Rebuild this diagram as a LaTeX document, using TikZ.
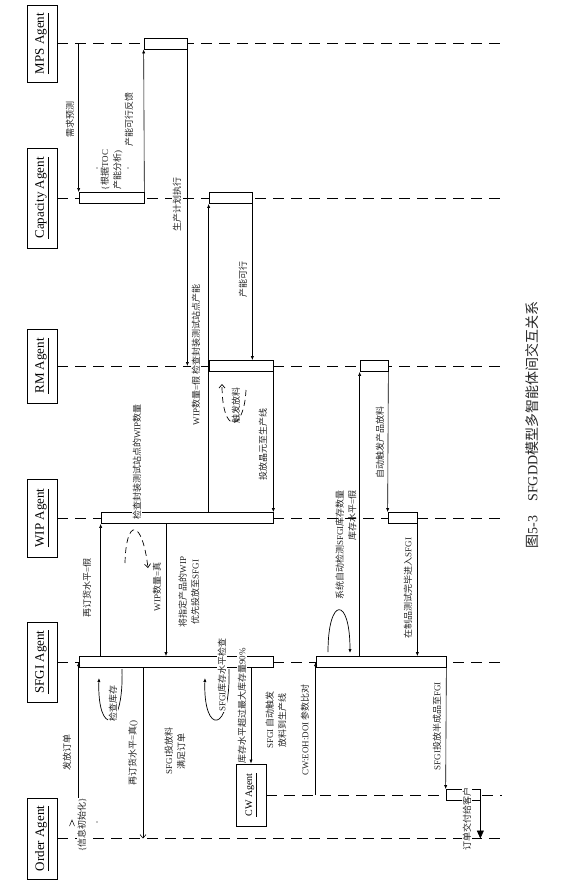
\documentclass[tikz,border=0pt]{standalone}
\usepackage{fontspec}
\setmainfont{Liberation Serif}
\newfontfamily\cjk{Noto Sans CJK SC}
\newcommand\zhs[1]{{\cjk #1}}
\usetikzlibrary{arrows.meta,fit}
\begin{document}
\begin{tikzpicture}[x=1pt,y=-1pt,
 agent/.style={draw, line width=0.9pt, rotate=90, minimum height=30, inner sep=1pt, font=\fontsize{13}{15}\selectfont},
 life/.style={line width=0.8pt, dash pattern=on 11pt off 7pt},
 act/.style={draw, fill=white, line width=0.7pt, inner sep=0pt},
 msg/.style={line width=0.6pt, -{Latex[length=4pt,width=3.2pt]}},
 msgo/.style={line width=0.6pt, -{Straight Barb[length=3.5pt,width=6pt]}},
 big/.style={line width=0.7pt, -{Triangle[length=8pt,width=7pt]}},
 loopd/.style={line width=0.7pt, dash pattern=on 6pt off 4pt, -{Straight Barb[length=3.5pt,width=6pt]}},
 loops/.style={line width=0.7pt, -{Latex[length=4pt,width=3.2pt]}},
 lbl/.style={rotate=90, inner sep=0.6pt, align=center, font=\fontsize{9}{12.5}\selectfont, text=black!85},
 lblw/.style={lbl, fill=white},
]
\useasboundingbox (0,0) rectangle (584,890);
\coordinate (endx) at (502,0);
\coordinate (m166) at (166,0);
\coordinate (m143) at (143,0);

% agents
\node[agent, minimum width=77] (mps) at (42,43.5) {\underline{MPS Agent}};
\node[agent, minimum width=100] (cap) at (42,198) {\underline{Capacity Agent}};
\node[agent, minimum width=74] (rm) at (42,366) {\underline{RM Agent}};
\node[agent, minimum width=78] (wip) at (42,518) {\underline{WIP Agent}};
\node[agent, minimum width=80] (sfgi) at (42,662) {\underline{SFGI Agent}};
\node[agent, minimum width=81] (order) at (42,838.5) {\underline{Order Agent}};
\node[agent, minimum width=62, font=\fontsize{10}{12}\selectfont] (cw) at (251,795) {\underline{CW Agent}};

% lifelines
\foreach \a in {mps,cap,rm,wip,sfgi,order,cw}
  \draw[life] (\a.south) -- (\a.south -| endx);

% activation boxes
\node[act, fit={(144,38) (187,49)}] (am) {};
\node[act, fit={(79,192.5) (144,203.5)}] (acap1) {};
\node[act, fit={(209,192.5) (252,203.5)}] (acap2) {};
\node[act, fit={(209,360.5) (273,371.5)}] (arm1) {};
\node[act, fit={(360,360.5) (388,371.5)}] (arm2) {};
\node[act, fit={(101,512.5) (273,523.5)}] (awip1) {};
\node[act, fit={(388,512.5) (417,523.5)}] (awip2) {};
\node[act, fit={(79,656.5) (273,667.5)}] (asfgi1) {};
\node[act, fit={(316,656.5) (446,667.5)}] (asfgi2) {};
\node[act, fit={(446,789.5) (480,800.5)}] (acw) {};

% messages
\draw[msg] (acap1.north west |- mps) -- (acap1.north west);
\draw[msg] (acap1.north east) -- (am.south west);
\draw[msg] (am.south east) -- (am.south east |- rm);
\draw[msg] (acap2.south west |- awip1.north) -- (acap2.south west);
\draw[msg] (acap2.south east) -- (acap2.south east |- arm1.north);
\draw[msg] (arm1.south east) -- (awip1.north east);
\draw[msg] (awip1.south west |- asfgi1.north) -- (awip1.south west);
\draw[msg] (awip1.south -| m166) -- (asfgi1.north -| m166);
\draw[msg] (asfgi1.west |- order) -- (asfgi1.west);
\draw[msgo] (asfgi1.south -| m143) -- (m143 |- order);
\draw[msg] (asfgi1.south -| cw.east) -- (cw.east);
\draw[msg] (asfgi2.west |- cw) -- (asfgi2.west);
\draw[msg] (arm2.south west |- asfgi2.north) -- (arm2.south west);
\draw[msg] (arm2.south east) -- (awip2.north west);
\draw[msg] (awip2.south east) -- (awip2.south east |- asfgi2.north);
\draw[msg] (asfgi2.south east) -- (acw.north west);
\draw[big] (acw.south east) -- (acw.south east |- order);

% self loops
\draw[loopd] (125,563) .. controls (126,518) and (142,518) .. (148,568);
\draw[loopd] (246,390) .. controls (244,432) and (222,436) .. (222,384);
\draw[loops] (122,669) .. controls (124,735) and (97,735) .. (99,678);
\draw[loops] (229,669) .. controls (231,735) and (203,735) .. (205,678);
\draw[loops] (328,652) .. controls (328,596) and (350,596) .. (350,653);

% small marks
\fill (97,168) circle (0.6);
\fill (128,168) circle (0.6);
\fill (97,822) circle (0.6);
\draw[line width=0.5pt] (69.5,826) -- (72,820) -- (74.5,826);

% labels
\node[lbl] (l1) at (70,120) {\zhs{需求预测}};
\node[lbl] (l2) at (129,120) {\zhs{产能可行反馈}};
\node[lbl] (l3) at (111.5,170) {\{\zhs{根据}TOC\\\zhs{产能分析})};
\node[lblw] (l4) at (177,205) {\zhs{生产计划执行}};
\node[lblw] (l5) at (196,355) {WIP\zhs{数量}=\zhs{假} \zhs{检查封装测试站点产能}};
\node[lbl] (l6) at (243,279) {\zhs{产能可行}};
\node[lbl] (l7) at (236,405) {\zhs{触发放料}};
\node[lbl] (l8) at (263,444) {\zhs{投放晶元至生产线}};
\node[lbl] (l9) at (380,442) {\zhs{自动触发产品放料}};
\node[lblw] (l10) at (137,462) {\zhs{检查封装测试站点的}WIP\zhs{数量}};
\node[lbl] (l11) at (87,588) {\zhs{再订货水平}=\zhs{假}};
\node[lbl] (l12) at (157,587) {WIP\zhs{数量}=\zhs{真}};
\node[lbl] (l13) at (189,592) {\zhs{将指定产品的}WIP\\\zhs{优先投放至}SFGI};
\node[lbl, align=right] (l14) at (346,545) {\zhs{系统自动检测}SFGI\zhs{库存数量}\\\zhs{库存水平}=\zhs{假}};
\node[lbl] (l15) at (408,588) {\zhs{在制品测试完毕进入}SFGI};
\node[lbl] (l16) at (67,752) {\zhs{发放订单}};
\node[lblw] (l17) at (113,703) {\zhs{检查库存}};
\node[lbl] (l18) at (133,753) {\zhs{再订货水平}=\zhs{真}()};
\node[lbl] (l19) at (175,751) {SFGI\zhs{投放料}\\\zhs{满足订单}};
\node[lblw] (l20) at (222,675) {SFGI\zhs{库存水平检查}};
\node[lblw] (l21) at (242,706) {\zhs{库存水平超过最大库存量}90\%};
\node[lbl] (l22) at (276,720) {SFGI \zhs{自动触发}\\\zhs{放料到生产线}};
\node[lbl] (l23) at (305,730) {CW:EOH:DOI \zhs{参数比对}};
\node[lbl] (l24) at (437,726) {SFGI\zhs{投放半成品至}FGI};
\node[lblw] (l25) at (467,819) {\zhs{订单交付给客户}};
\node[lblw] (l26) at (82,825) {\{\zhs{信息初始化}\}};

% caption
\node[rotate=90, font=\fontsize{14}{16}\selectfont, text=black!85] (caption) at (532,425) {\zhs{图}5-3\quad SFGDD\zhs{模型多智能体间交互关系}};
\end{tikzpicture}
\end{document}
